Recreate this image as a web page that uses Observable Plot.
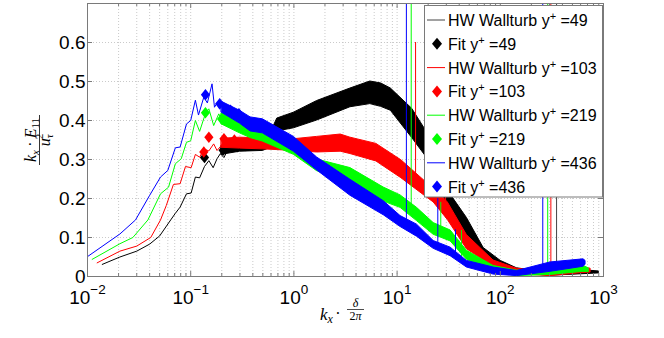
<!DOCTYPE html>
<html><head><meta charset="utf-8">
<script src="https://cdn.jsdelivr.net/npm/d3@7"></script>
<script src="https://cdn.jsdelivr.net/npm/@observablehq/plot@0.6"></script>
<style>
body{margin:0;background:#fff;}
#chart{width:664px;height:338px;}
</style></head><body><div id="chart"></div>
<script>
// ---- data ----
const yPlusValues = [49, 103, 219, 436];
const seriesColors = ["#000000", "#ff0000", "#00ff00", "#0000ff"];
const lineLabels = ["HW Wallturb y", "HW Wallturb y", "HW Wallturb y", "HW Wallturb y"];
const fitLabels = ["Fit y", "Fit y", "Fit y", "Fit y"];
const xTicks = [0.01, 0.1, 1, 10, 100, 1000];
const yTicks = [0, 0.1, 0.2, 0.3, 0.4, 0.5, 0.6];

// low-wavenumber part of the spectra [kx*delta/2pi, value]
const low49 = [[0.0139,0.031],[0.0206,0.05],[0.03,0.065],[0.04,0.083],[0.05,0.104],[0.064,0.145],[0.071,0.162],[0.079,0.178],[0.091,0.212],[0.101,0.214],[0.111,0.255],[0.122,0.253],[0.136,0.282],[0.15,0.297],[0.165,0.279],[0.18,0.302],[0.194,0.315],[0.21,0.305],[0.226,0.322]];
const low103 = [[0.0124,0.035],[0.0206,0.065],[0.03,0.078],[0.041,0.1],[0.051,0.145],[0.058,0.182],[0.068,0.236],[0.079,0.238],[0.089,0.282],[0.101,0.279],[0.111,0.313],[0.122,0.306],[0.134,0.327],[0.15,0.322],[0.167,0.34],[0.18,0.323],[0.21,0.344]];
const low219 = [[0.0111,0.044],[0.0206,0.084],[0.0275,0.1],[0.0385,0.145],[0.051,0.212],[0.061,0.229],[0.071,0.289],[0.081,0.302],[0.091,0.344],[0.1,0.348],[0.111,0.4],[0.122,0.372],[0.139,0.418],[0.15,0.43],[0.167,0.387],[0.187,0.417],[0.21,0.392]];
const low436 = [[0.01,0.051],[0.0206,0.109],[0.0292,0.145],[0.04,0.208],[0.051,0.255],[0.06,0.272],[0.071,0.33],[0.079,0.332],[0.091,0.391],[0.1,0.4],[0.111,0.452],[0.119,0.414],[0.134,0.46],[0.145,0.445],[0.161,0.494],[0.17,0.434],[0.18,0.445],[0.19,0.43],[0.21,0.44]];

// noisy high-wavenumber part: [x, lower edge, upper edge]
const band49 = [[0.2,0.312,0.335],[0.3,0.32,0.345],[0.5,0.322,0.35],[0.6,0.33,0.37],[0.69,0.372,0.405],[1.0,0.38,0.42],[1.68,0.40,0.45],[3.53,0.434,0.482],[5.5,0.442,0.50],[7.0,0.435,0.495],[8.7,0.425,0.482],[14,0.355,0.43],[20,0.30,0.365],[25,0.24,0.30],[33,0.16,0.21],[47.5,0.10,0.15],[69,0.043,0.073],[101,0.022,0.04],[145,0.008,0.021],[306,0.002,0.009],[640,0.006,0.016],[900,0.008,0.013]];
const band103 = [[0.2,0.33,0.353],[0.3,0.328,0.356],[0.5,0.326,0.354],[1.0,0.322,0.352],[1.68,0.318,0.358],[2.84,0.32,0.364],[3.53,0.314,0.356],[6.3,0.295,0.34],[11,0.252,0.298],[18.5,0.207,0.245],[22.6,0.19,0.228],[31,0.145,0.19],[47.5,0.07,0.106],[86,0.025,0.041],[145,0.006,0.02],[306,0.001,0.01],[640,0.009,0.023],[750,0.01,0.02]];
const band219 = [[0.2,0.39,0.418],[0.3,0.367,0.398],[0.38,0.355,0.384],[0.5,0.346,0.374],[1.0,0.312,0.343],[1.68,0.27,0.30],[3.53,0.24,0.278],[7.43,0.192,0.228],[10.8,0.176,0.208],[15.6,0.142,0.176],[22.6,0.107,0.137],[33,0.09,0.118],[47.5,0.043,0.066],[86,0.012,0.027],[145,0.001,0.015],[306,0.004,0.019],[640,0.012,0.027],[720,0.011,0.021]];
const band436 = [[0.2,0.42,0.448],[0.3,0.392,0.425],[0.38,0.372,0.408],[0.5,0.367,0.403],[1.0,0.32,0.358],[1.68,0.272,0.305],[3.53,0.207,0.248],[7.43,0.157,0.193],[10.8,0.127,0.155],[15.6,0.102,0.133],[22.6,0.071,0.091],[33,0.052,0.074],[47.5,0.023,0.04],[86,0.005,0.023],[145,0.001,0.014],[306,0.012,0.036],[640,0.025,0.044],[670,0.03,0.04]];

// isolated spikes: [y+, x, base, top]
const spikes = [[436,12.3,0.13,0.7],[219,13.7,0.17,0.7],[103,15.1,0.24,0.6],[436,24.8,0.08,0.2],[219,26.5,0.11,0.19],[103,29.5,0.15,0.22],[436,36.8,0.06,0.12],[219,42,0.05,0.118],[436,258,0.01,0.7],[219,288,0.01,0.7],[103,309,0.005,0.7],[49,351,0.005,0.7]];

// fitted points (diamonds) [x, value]
const fit49 = [[0.136,0.305],[0.206,0.324],[0.282,0.333],[0.34,0.336]];
const fit103 = [[0.134,0.319],[0.15,0.357],[0.21,0.353],[0.265,0.35]];
const fit219 = [[0.139,0.42],[0.199,0.404],[0.255,0.393],[0.30,0.385]];
const fit436 = [[0.139,0.466],[0.191,0.443],[0.243,0.426],[0.293,0.417]];

// ---- tables ----
const lows = [low49, low103, low219, low436];
const bands = [band49, band103, band219, band436];
const fits = [fit49, fit103, fit219, fit436];
const lowRows = lows.flatMap((a, i) => a.map(([x, y]) => ({yp: yPlusValues[i], x, y})));
const bandRows = bands.flatMap((a, i) => a.map(([x, lo, hi]) => ({yp: yPlusValues[i], x, lo, hi})));
const fitRows = fits.flatMap((a, i) => a.map(([x, y]) => ({yp: yPlusValues[i], x, y})));
const spikeRows = spikes.map(([yp, x, base, top]) => ({yp, x, base, top}));

const W = 664, H = 338, mL = 87, mR = 61, mT = 3, mB = 62;
const plotW = W - mL - mR, plotH = H - mT - mB;
const minorX = [];
for (let e = -2; e < 3; e++) for (let k = 1; k < 10; k++) minorX.push(k * Math.pow(10, e));
minorX.push(1000);
const gridX = minorX.filter(v => v > 0.01 && v < 1000);
const minorOnly = minorX.filter(v => !xTicks.some(t => Math.abs(t - v) / t < 1e-9));

const diamond = {
  draw(ctx, size) {
    const r = Math.sqrt(size / Math.PI);
    ctx.moveTo(0, -1.15 * r); ctx.lineTo(0.92 * r, 0); ctx.lineTo(0, 1.15 * r); ctx.lineTo(-0.92 * r, 0); ctx.closePath();
  }
};

const marks = [
  Plot.ruleX(gridX, {stroke: "#bcbcbc", strokeDasharray: "1,2", strokeWidth: 0.8}),
  Plot.ruleY(yTicks.slice(1), {stroke: "#bcbcbc", strokeDasharray: "1,2", strokeWidth: 0.8})
];
yPlusValues.forEach(yp => {
  marks.push(Plot.line(lowRows.filter(d => d.yp === yp), {x: "x", y: "y", stroke: "yp", strokeWidth: 1}));
  marks.push(Plot.areaY(bandRows.filter(d => d.yp === yp), {x: "x", y1: "lo", y2: "hi", fill: "yp", stroke: "yp", strokeWidth: 1, curve: "linear"}));
  marks.push(Plot.ruleX(spikeRows.filter(d => d.yp === yp), {x: "x", y1: "base", y2: "top", stroke: d => d.yp === 49 ? 0 : d.yp, strokeWidth: 1}));
  marks.push(Plot.dot(fitRows.filter(d => d.yp === yp), {x: "x", y: "y", r: 5, symbol: diamond, fill: "yp", stroke: "none"}));
});
marks.push(
  Plot.frame({stroke: "#7a7a7a"}),
  Plot.ruleX(xTicks, {stroke: "#7a7a7a", insetTop: plotH - 5}),
  Plot.ruleX(xTicks, {stroke: "#7a7a7a", insetBottom: plotH - 5}),
  Plot.ruleX(minorOnly, {stroke: "#7a7a7a", insetTop: plotH - 3}),
  Plot.ruleX(minorOnly, {stroke: "#7a7a7a", insetBottom: plotH - 3}),
  Plot.ruleY(yTicks, {stroke: "#7a7a7a", insetRight: plotW - 5}),
  Plot.ruleY(yTicks, {stroke: "#7a7a7a", insetLeft: plotW - 5})
);

const chart = Plot.plot({
  width: W, height: H, marginLeft: mL, marginRight: mR, marginTop: mT, marginBottom: mB,
  style: {fontFamily: "'Liberation Sans', Arial, sans-serif", fontSize: "19px", background: "white", color: "black"},
  x: {type: "log", domain: [0.01, 1000], ticks: xTicks, tickFormat: d => "10^" + Math.round(Math.log10(d)), tickSize: 0, tickPadding: 14, label: null},
  y: {domain: [0, 0.7], ticks: yTicks, tickFormat: d => d === 0 ? "0" : d.toFixed(1), tickSize: 0, tickPadding: 2, label: null},
  color: {type: "ordinal", domain: [0, ...yPlusValues], range: ["#444444", ...seriesColors]},
  marks
});
document.getElementById("chart").appendChild(chart);
const svg = d3.select(chart);

// superscript exponents on x tick labels
svg.selectAll('g[aria-label="x-axis tick label"] text').each(function () {
  const t = d3.select(this);
  const s = t.text();
  const e = s.split("^")[1].replace("-", "\u2212");
  t.text(null);
  t.append("tspan").text("10");
  t.append("tspan").attr("dy", -10.5).attr("font-size", 13.5).text(e);
});

// y label: k_x · E_11 / u_tau^2
const yl = svg.append("g").attr("transform", "translate(39.5,140) rotate(-90)")
  .attr("font-family", "'Liberation Serif', 'DejaVu Serif', serif").attr("fill", "black").attr("text-anchor", "middle");
const num = yl.append("text").attr("y", -4).attr("font-size", 16);
num.append("tspan").attr("font-style", "italic").text("k");
num.append("tspan").attr("font-style", "italic").attr("font-size", 11).attr("dy", 3).text("x");
num.append("tspan").attr("dy", -3).text("\u2009·\u2009");
num.append("tspan").attr("font-style", "italic").text("E");
num.append("tspan").attr("font-size", 11).attr("dy", 3).text("11");
yl.append("line").attr("x1", -25).attr("x2", 25).attr("y1", 0).attr("y2", 0).attr("stroke", "black").attr("stroke-width", 0.8);
const den = yl.append("text").attr("y", 10.5).attr("font-size", 16);
den.append("tspan").attr("font-style", "italic").text("u");
den.append("tspan").attr("font-style", "italic").attr("font-size", 11).attr("dy", 3).text("τ");
den.append("tspan").attr("font-size", 11).attr("dx", -5).attr("dy", -10).text("2");

// x label: k_x · delta / 2pi
const xl = svg.append("g").attr("font-family", "'Liberation Serif', 'DejaVu Serif', serif").attr("fill", "black");
const kx = xl.append("text").attr("x", 320).attr("y", 320).attr("font-size", 17).attr("text-anchor", "start");
kx.append("tspan").attr("font-style", "italic").text("k");
kx.append("tspan").attr("font-style", "italic").attr("font-size", 12).attr("dy", 3).text("x");
xl.append("text").attr("x", 338).attr("y", 319).attr("font-size", 16).attr("text-anchor", "middle").text("·");
xl.append("text").attr("x", 355.5).attr("y", 306.5).attr("font-size", 12).attr("text-anchor", "middle").attr("font-style", "italic").text("δ");
xl.append("line").attr("x1", 347).attr("x2", 364).attr("y1", 309.5).attr("y2", 309.5).attr("stroke", "black").attr("stroke-width", 0.7);
const tp = xl.append("text").attr("x", 355.5).attr("y", 320).attr("font-size", 12).attr("text-anchor", "middle");
tp.append("tspan").text("2");
tp.append("tspan").attr("font-style", "italic").text("π");

// legend
const lg = svg.append("g").attr("font-family", "'Liberation Sans', Arial, sans-serif").attr("font-size", 16).attr("fill", "black").attr("text-anchor", "start");
lg.append("rect").attr("x", 424.5).attr("y", 5.5).attr("width", 178).attr("height", 191.5).attr("fill", "white").attr("stroke", "#7a7a7a");
yPlusValues.forEach((yp, i) => {
  const c = seriesColors[i];
  const y1 = 20 + 23.8 * (2 * i), y2 = 20 + 23.8 * (2 * i + 1);
  lg.append("line").attr("x1", 427).attr("x2", 445).attr("y1", y1).attr("y2", y1).attr("stroke", i === 0 ? "#444" : c).attr("stroke-width", 1);
  const t1 = lg.append("text").attr("x", 448).attr("y", y1 + 6);
  t1.append("tspan").text(lineLabels[i]);
  t1.append("tspan").attr("font-size", 11).attr("dy", -6).text("+");
  t1.append("tspan").attr("dy", 6).text(" =" + yp);
  lg.append("path").attr("d", "M437," + (y2 - 6) + "L442," + y2 + "L437," + (y2 + 6) + "L432," + y2 + "Z").attr("fill", c);
  const t2 = lg.append("text").attr("x", 448).attr("y", y2 + 6);
  t2.append("tspan").text(fitLabels[i]);
  t2.append("tspan").attr("font-size", 11).attr("dy", -6).text("+");
  t2.append("tspan").attr("dy", 6).text(" =" + yp);
});
</script>
</body></html>
